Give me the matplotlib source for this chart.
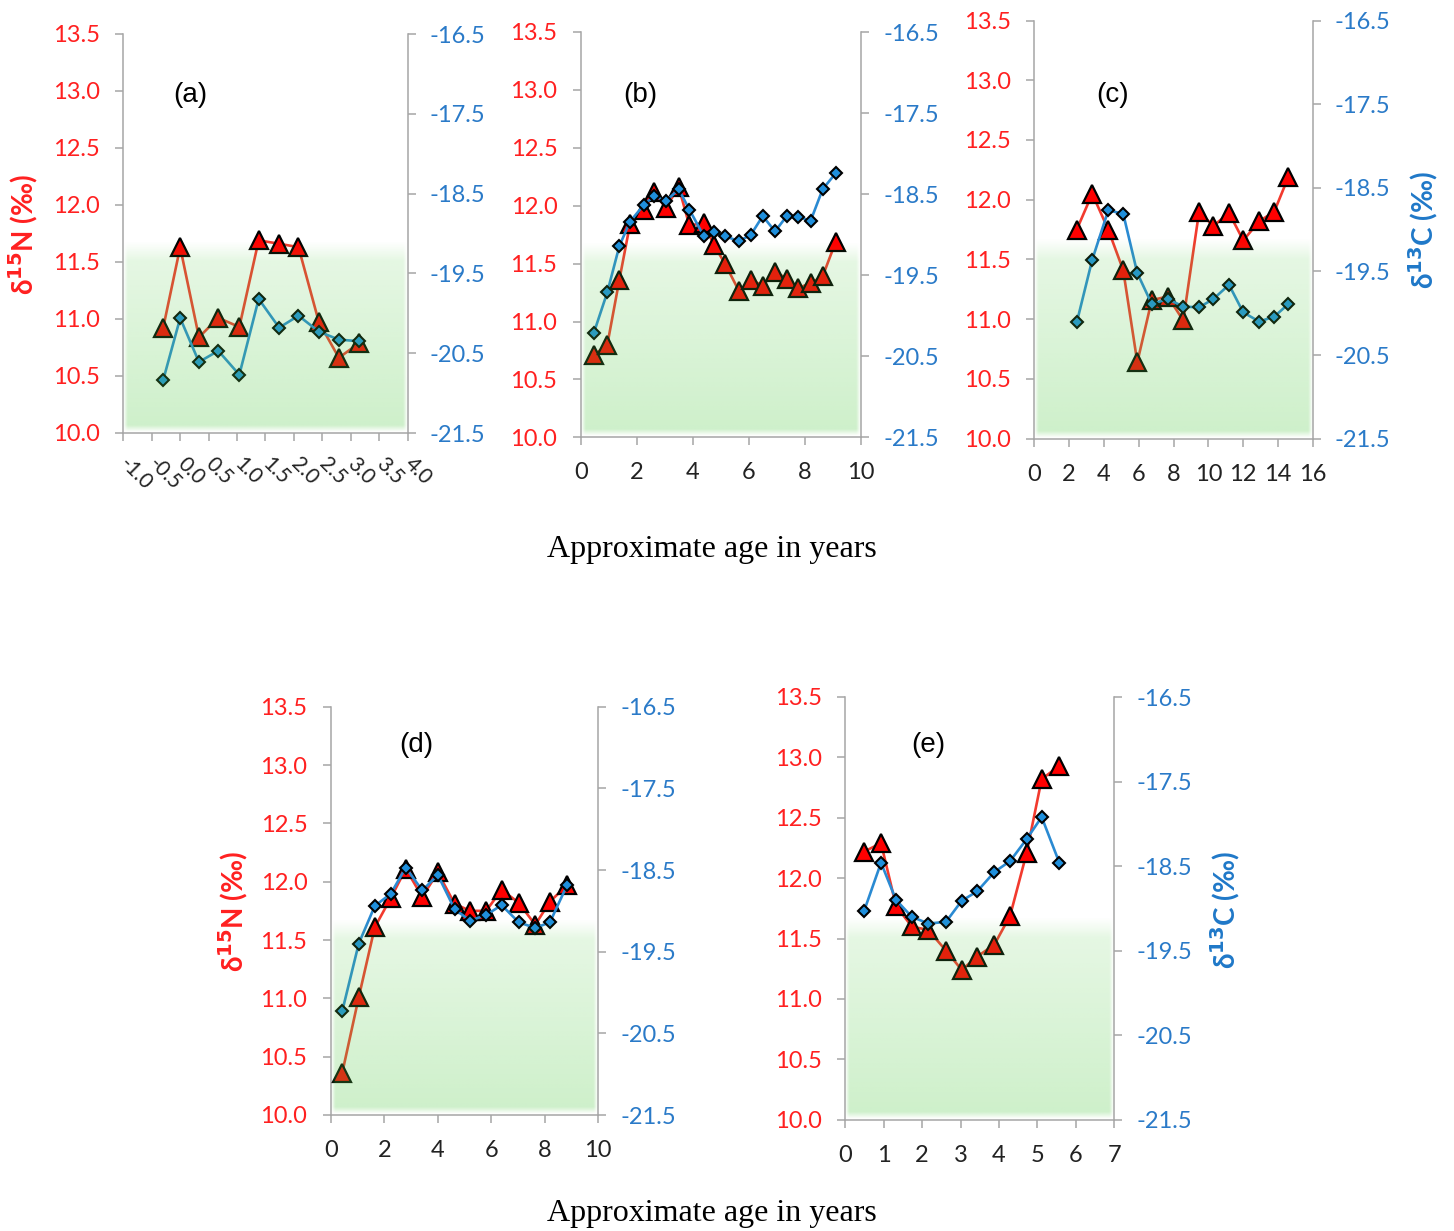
import numpy as np
import matplotlib
matplotlib.use("Agg")
import matplotlib.pyplot as plt

plt.rcParams['axes.unicode_minus'] = False

W, H = 1454, 1231

# ---------------- data ----------------
# panel (a)
xa = [-0.3, 0.0, 0.33, 0.67, 1.04, 1.38, 1.74, 2.08, 2.44, 2.79, 3.15]
na = [10.92, 11.63, 10.84, 11.01, 10.93, 11.69, 11.66, 11.63, 10.97, 10.66, 10.79]
ca = [-20.84, -20.06, -20.61, -20.47, -20.77, -19.82, -20.18, -20.03, -20.23, -20.33, -20.35]

# panel (b)
xb = [0.46, 0.94, 1.37, 1.75, 2.25, 2.62, 3.02, 3.49, 3.87, 4.39, 4.75,
      5.14, 5.65, 6.07, 6.49, 6.93, 7.35, 7.76, 8.2, 8.63, 9.1]
nb = [10.71, 10.80, 11.36, 11.84, 11.96, 12.12, 11.98, 12.16, 11.83, 11.85, 11.66,
      11.50, 11.26, 11.36, 11.31, 11.43, 11.37, 11.29, 11.33, 11.39, 11.69]
cb = [-20.21, -19.71, -19.14, -18.84, -18.63, -18.52, -18.59, -18.44, -18.69, -19.02, -18.97,
      -19.02, -19.08, -19.00, -18.77, -18.96, -18.77, -18.78, -18.83, -18.44, -18.24]

# panel (c)
xc = [2.44, 3.33, 4.25, 5.11, 5.92, 6.75, 7.67, 8.56, 9.47, 10.29, 11.19, 12.01, 12.93, 13.79, 14.6]
nc = [11.75, 12.05, 11.75, 11.41, 10.64, 11.16, 11.19, 10.99, 11.90, 11.78, 11.89, 11.66, 11.82, 11.90, 12.19]
cc = [-20.11, -19.36, -18.77, -18.81, -19.52, -19.89, -19.83, -19.92, -19.93, -19.83, -19.66,
      -19.99, -20.10, -20.04, -19.89]

# panel (d)
xd = [0.42, 1.04, 1.64, 2.24, 2.8, 3.42, 4.0, 4.63, 5.21, 5.81, 6.39, 7.03, 7.65, 8.2, 8.85]
nd = [10.36, 11.01, 11.61, 11.86, 12.11, 11.87, 12.08, 11.81, 11.75, 11.75, 11.93, 11.82, 11.63, 11.83, 11.97]
cd = [-20.23, -19.40, -18.94, -18.79, -18.47, -18.75, -18.56, -18.98, -19.12, -19.05, -18.93,
      -19.14, -19.21, -19.14, -18.68]

# panel (e)
xe = [0.49, 0.93, 1.32, 1.73, 2.16, 2.62, 3.03, 3.43, 3.88, 4.29, 4.72, 5.11, 5.57]
ne = [12.22, 12.29, 11.77, 11.60, 11.57, 11.40, 11.24, 11.35, 11.45, 11.69, 12.21, 12.82, 12.93]
ce = [-19.03, -18.46, -18.90, -19.10, -19.18, -19.16, -18.91, -18.80, -18.57, -18.44, -18.18,
      -17.92, -18.46]

n_ticks = [10.0, 10.5, 11.0, 11.5, 12.0, 12.5, 13.0, 13.5]
c_ticks = [-21.5, -20.5, -19.5, -18.5, -17.5, -16.5]
panel_letters = ['(a)', '(b)', '(c)', '(d)', '(e)']
xlabel_text = 'Approximate age in years'

# ---------------- style ----------------
RED = '#ff2020'
RED_LINE = '#f23a2e'
BLUE_TXT = '#2a7ac8'
BLUE_LINE = '#2a8ad2'
BLUE_FILL = '#1f8fdc'
GRAY = '#a6a6a6'
TICKFONT = 'Lato'

fig = plt.figure(figsize=(W / 100, H / 100), dpi=100)


def px_axes(L, R, T, B):
    return fig.add_axes([L / W, 1 - B / H, (R - L) / W, (B - T) / H])


def gradient_image(h=300, w=300):
    yy = np.linspace(0, 1, h)[:, None]   # 0 bottom, 1 top
    xx = np.linspace(0, 1, w)[None, :]
    base = 0.30 - 0.16 * yy
    top = np.clip((1 - yy) / 0.10, 0, 1)
    bot = np.clip((yy - 0.005) / 0.035, 0, 1)
    lr = np.clip(xx / 0.015, 0, 1) * np.clip((1 - xx) / 0.015, 0, 1)
    alpha = base * top * bot * lr
    img = np.zeros((h, w, 4))
    img[..., 0] = 0.35
    img[..., 1] = 0.80
    img[..., 2] = 0.30
    img[..., 3] = alpha
    return img


def panel(rect, x, n, c, xlim, xticks, rotate=False):
    ax = px_axes(*rect)
    ax2 = ax.twinx()
    ax.plot(x, n, color=RED_LINE, lw=1.9, marker='^', ms=12.5, mfc='#ff0000',
            mec='black', mew=1.6, clip_on=False, zorder=3)
    ax2.plot(x, c, color=BLUE_LINE, lw=1.9, marker='D', ms=6, mfc=BLUE_FILL,
             mec='black', mew=1.5, clip_on=False, zorder=3)
    ytop = (11.68 - 10.0) / 3.5
    ax2.imshow(gradient_image(), extent=[0.0, 1.0, 0.0, ytop], transform=ax2.transAxes,
               origin='lower', aspect='auto', zorder=10, interpolation='bilinear')
    ax.set_xlim(*xlim)
    ax.set_ylim(10.0, 13.5)
    ax2.set_ylim(-21.5, -16.5)
    ax.set_xticks(xticks)
    ax.set_yticks(n_ticks)
    ax.set_yticklabels(['%.1f' % v for v in n_ticks])
    ax2.set_yticks(c_ticks)
    ax2.set_yticklabels(['%.1f' % v for v in c_ticks])
    if rotate:
        ax.set_xticklabels(['%.1f' % v for v in xticks])
    else:
        ax.set_xticklabels(['%d' % v for v in xticks])
    for a in (ax, ax2):
        a.spines['top'].set_visible(False)
        for s in a.spines.values():
            s.set_color(GRAY)
            s.set_linewidth(1.1)
        a.set_facecolor('none')
    ax.spines['right'].set_visible(False)
    ax2.spines['left'].set_visible(False)
    ax2.spines['bottom'].set_visible(False)
    ax.tick_params(axis='y', colors=GRAY, length=6, width=1.1, pad=11,
                   labelcolor=RED, labelsize=17)
    ax2.tick_params(axis='y', colors=GRAY, length=6, width=1.1, pad=10,
                    labelcolor=BLUE_TXT, labelsize=17)
    ax.tick_params(axis='x', colors=GRAY, length=6, width=1.1, pad=12,
                   labelcolor='#222222', labelsize=17)
    for lab in ax.get_yticklabels() + ax2.get_yticklabels() + ax.get_xticklabels():
        lab.set_fontfamily(TICKFONT)
    if rotate:
        for lab in ax.get_xticklabels():
            lab.set_rotation(-45)
            lab.set_ha('left')
            lab.set_va('center')
            lab.set_rotation_mode('anchor')
            lab.set_fontsize(15)
        ax.tick_params(axis='x', pad=14)
    return ax, ax2


panel((123.3, 407.7, 34, 433), xa, na, ca, (-1.0, 4.0), np.arange(-1.0, 4.01, 0.5), rotate=True)
panel((581, 861, 32, 437.3), xb, nb, cb, (0, 10), np.arange(0, 11, 2))
panel((1034.3, 1312.7, 20.5, 438.7), xc, nc, cc, (0, 16), np.arange(0, 17, 2))
panel((331, 598, 706.7, 1115), xd, nd, cd, (0, 10), np.arange(0, 11, 2))
panel((845.3, 1114.3, 697, 1119.7), xe, ne, ce, (0, 7), np.arange(0, 8, 1))


def ftext(px, py, s, **kw):
    fig.text(px / W, 1 - py / H, s, **kw)


letter_pos = [(190, 95), (640, 95), (1113, 95), (416, 745), (928, 745)]
for (px, py), s in zip(letter_pos, panel_letters):
    ftext(px, py, s, fontsize=20, family='Liberation Sans', ha='center', va='center')

nlabel = r'δ$^{\mathbf{15}}$N (‰)'
clabel = r'δ$^{\mathbf{13}}$C (‰)'
for (px, py) in [(23, 235), (233, 912)]:
    ftext(px, py, nlabel, fontsize=20, fontweight='bold', color=RED,
          family=['Lato', 'DejaVu Sans'], rotation=90, ha='center', va='center')
for (px, py) in [(1423, 230), (1225, 910)]:
    ftext(px, py, clabel, fontsize=20, fontweight='bold', color='#1f78c8',
          family=['Lato', 'DejaVu Sans'], rotation=90, ha='center', va='center')

for py in (549, 1213):
    ftext(712, py, xlabel_text, fontsize=23, family='Liberation Serif',
          ha='center', va='center', color='black')

fig.savefig('out.png', dpi=100)
